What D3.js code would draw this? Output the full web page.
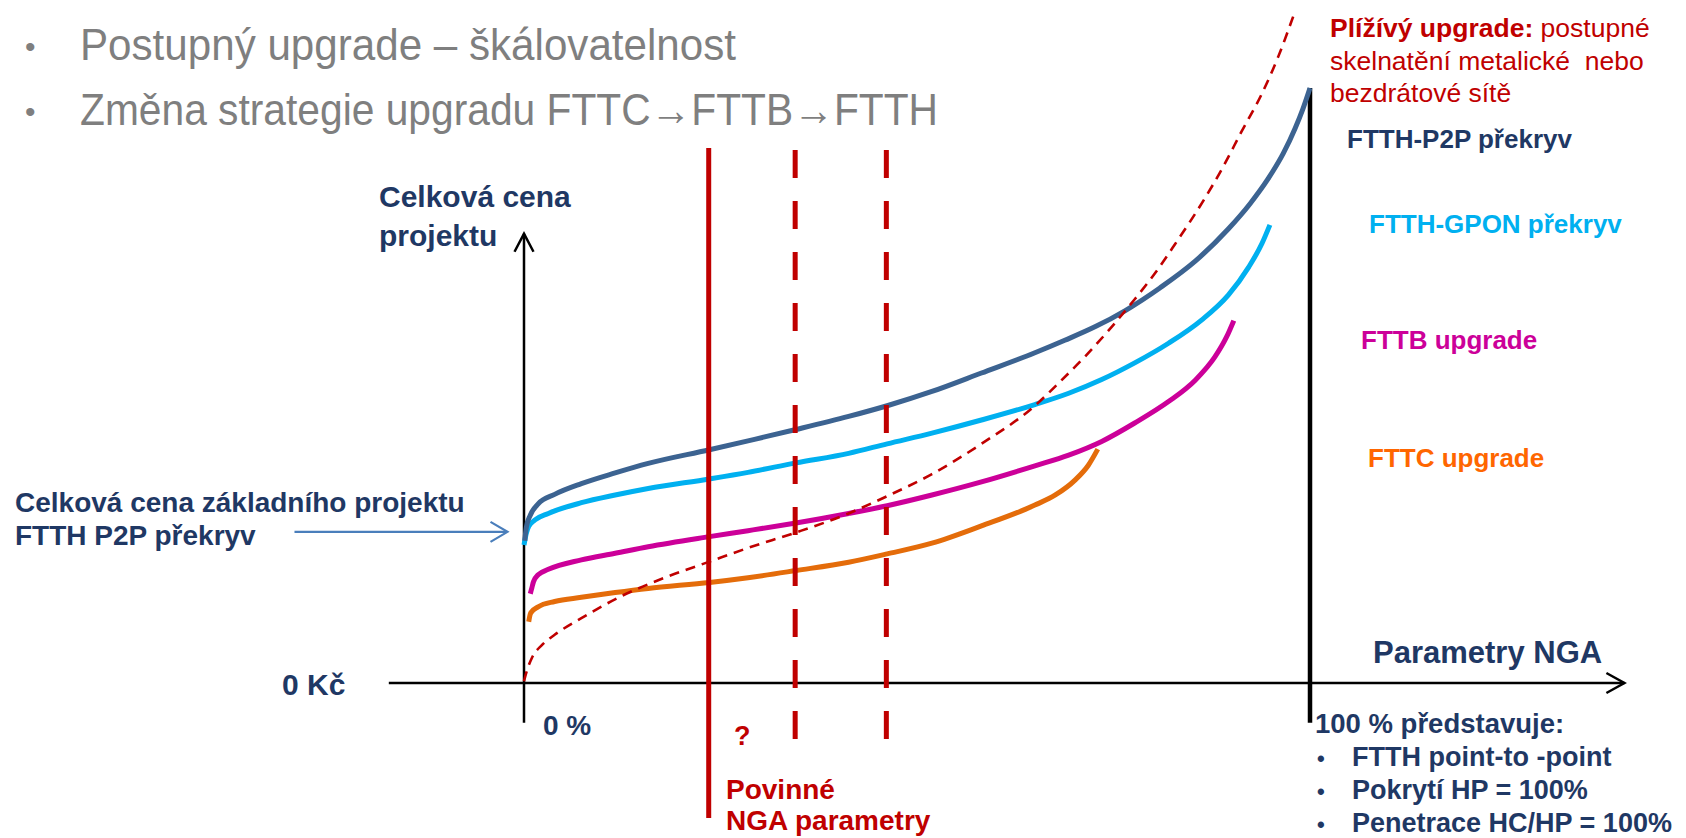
<!DOCTYPE html>
<html><head><meta charset="utf-8">
<script src="https://cdn.jsdelivr.net/npm/d3@7"></script>
<style>html,body{margin:0;padding:0;background:#fff;overflow:hidden} svg{display:block}</style>
</head><body>
<svg id="chart" width="1686" height="838"></svg>
<script>
// ---------------- data ----------------
const titleLines = ["Postupný upgrade – škálovatelnost", "Změna strategie upgradu FTTC\u2192FTTB\u2192FTTH"];
const seriesNames = ["FTTH-P2P překryv", "FTTH-GPON překryv", "FTTB upgrade", "FTTC upgrade"];

// x = NGA parameters (% of full FTTH P2P), y = relative total project cost
const p2pX  = [0.1,0.3,0.8,1.8,3.9,7.3,11.6,15.8,23.6,28.5,34.6,41.3,46.2,51.9,58.2,65.0,68.8,72.7,76.5,80.9,85.4,89.6,92.4,94.7,96.6,98.1,99.1,100];
const p2pY  = [23.9,26.2,28.2,30.1,31.7,33.5,35.3,36.9,39.2,40.7,42.6,44.8,46.6,49.0,52.1,55.5,57.6,59.9,62.6,66.4,70.9,76.3,80.6,84.8,89.0,93.2,96.5,100];
const gponX = [0.0,0.3,0.6,1.4,3.1,7.3,11.6,15.8,23.6,28.5,34.6,41.3,46.2,51.9,58.2,65.0,69.3,73.5,77.7,82.0,86.2,89.6,92.2,93.9,94.9];
const gponY = [23.2,25.2,26.3,27.4,28.5,30.3,31.6,32.7,34.3,35.4,37.0,38.6,40.2,42.0,44.2,46.8,48.7,51.0,53.8,57.1,61.0,65.2,69.9,73.9,77.0];
const fttbX = [0.8,1.0,1.2,1.8,3.1,7.3,11.6,15.8,23.6,28.5,34.6,41.3,46.2,51.9,58.2,65.0,69.3,73.5,77.7,82.0,85.4,87.9,89.4,90.3];
const fttbY = [15.0,16.0,17.0,18.2,19.1,20.7,21.8,22.9,24.6,25.6,26.9,28.5,29.8,31.6,33.8,36.5,38.3,40.6,43.7,47.3,50.9,54.8,58.2,60.9];
const fttcX = [0.6,0.8,1.0,1.8,3.9,7.3,11.6,15.8,23.6,28.5,34.6,41.3,46.2,51.9,58.2,65.0,67.6,70.1,71.8,73.0];
const fttcY = [10.3,11.6,12.0,12.8,13.7,14.4,15.2,15.9,16.9,17.7,18.9,20.3,21.7,23.5,26.4,29.9,31.6,34.1,36.6,39.3];
// "Plížívý upgrade" (creeping upgrade) dashed curve
const creepX = [0.0,0.4,1.0,2.3,3.9,7.3,12.4,17.9,23.6,28.5,34.6,41.3,46.2,51.9,58.2,65.0,68.4,71.4,74.8,77.7,80.3,82.8,86.5,88.8,91.3,93.9,96.0,98.1];
const creepY = [0.3,2.2,4.2,6.4,8.1,10.9,14.6,17.7,20.4,22.7,25.3,28.5,31.4,35.1,40.2,46.6,50.9,54.9,59.9,64.5,68.9,73.7,81.2,86.4,92.7,99.1,105.4,112.9];

// vertical markers: mandatory NGA parameters (solid) and candidate levels (dashed)
const markerX      = [23.5, 34.5, 46.1];
const markerTop    = [89.9, 89.6, 89.6];
const markerBottom = [-22.7, -10.8, -10.1];
const markerDashed = [false, true, true];

// axis extents and annotation arrow (data units)
const xAxisFrom = -17.2, xAxisTo = 140;
const yAxisFrom = -6.7, yAxisTo = 75.5;
const fullLevel = 100;
const baseArrowFrom = -29.2, baseArrowTo = -2.1, baseArrowLevel = 25.4;

// ---------------- layout ----------------
const svg = d3.select("#chart");
const x = d3.scaleLinear().domain([0, 100]).range([524, 1310]);
const y = d3.scaleLinear().domain([0, 100]).range([683, 88]);

const NAVY = "#1f3864", RED = "#c00000";
const BOLD = "'Liberation Sans', Arial, Helvetica, sans-serif";

// title bullets
const titleBase = [60, 125];
const titleLen = [656, 858];
titleLines.forEach((t, i) => {
  svg.append("text").attr("x", 25).attr("y", titleBase[i] - 3)
    .attr("font-family", BOLD).attr("font-size", 30).attr("fill", "#7f7f7f").text("•");
  svg.append("text").attr("x", 80).attr("y", titleBase[i])
    .attr("font-family", "'Liberation Sans Narrow','Arial Narrow','Liberation Sans',Arial,sans-serif")
    .attr("font-size", 44).attr("fill", "#7f7f7f")
    .attr("textLength", titleLen[i]).attr("lengthAdjust", "spacingAndGlyphs")
    .text(t);
});

function chevron(g, tipX, tipY, dir, len, half, color, w) {
  let pts;
  if (dir === "up") pts = [[tipX - half, tipY + len], [tipX, tipY], [tipX + half, tipY + len]];
  else pts = [[tipX - len, tipY - half], [tipX, tipY], [tipX - len, tipY + half]];
  g.append("path").attr("d", d3.line()(pts)).attr("fill", "none")
    .attr("stroke", color).attr("stroke-width", w).attr("stroke-linecap", "butt");
}

// axes
const axes = svg.append("g");
axes.append("line").attr("x1", x(0)).attr("x2", x(0)).attr("y1", y(yAxisFrom)).attr("y2", y(yAxisTo))
  .attr("stroke", "#000").attr("stroke-width", 2.5);
chevron(axes, x(0), y(yAxisTo), "up", 18, 9.5, "#000", 2.5);
axes.append("line").attr("x1", x(xAxisFrom)).attr("x2", x(xAxisTo)).attr("y1", y(0)).attr("y2", y(0))
  .attr("stroke", "#000").attr("stroke-width", 2.5);
chevron(axes, x(xAxisTo), y(0), "right", 18, 10, "#000", 2.5);
axes.append("line").attr("x1", x(fullLevel)).attr("x2", x(fullLevel)).attr("y1", y(yAxisFrom)).attr("y2", y(100))
  .attr("stroke", "#000").attr("stroke-width", 4.5);

// curves
const line = d3.line().x(d => x(d[0])).y(d => y(d[1])).curve(d3.curveMonotoneX);
const series = [
  {xs: p2pX,  ys: p2pY,  color: "#3c6391"},
  {xs: gponX, ys: gponY, color: "#00b0f0"},
  {xs: fttbX, ys: fttbY, color: "#cc0099"},
  {xs: fttcX, ys: fttcY, color: "#e46c0a"}
];
const curves = svg.append("g");
series.slice().reverse().forEach(s => {
  curves.append("path").attr("d", line(d3.zip(s.xs, s.ys)))
    .attr("fill", "none").attr("stroke", s.color).attr("stroke-width", 5);
});
curves.append("path").attr("d", line(d3.zip(creepX, creepY)))
  .attr("fill", "none").attr("stroke", RED).attr("stroke-width", 2.6)
  .attr("stroke-dasharray", "10 7");

// vertical markers
markerX.forEach((m, i) => {
  svg.append("line").attr("x1", x(m)).attr("x2", x(m))
    .attr("y1", y(markerTop[i])).attr("y2", y(markerBottom[i]))
    .attr("stroke", RED).attr("stroke-width", 5)
    .attr("stroke-dasharray", markerDashed[i] ? "28 23" : null);
});

// base project arrow
const arr = svg.append("g");
arr.append("line").attr("x1", x(baseArrowFrom)).attr("x2", x(baseArrowTo) - 1)
  .attr("y1", y(baseArrowLevel)).attr("y2", y(baseArrowLevel))
  .attr("stroke", "#4a7ebb").attr("stroke-width", 2.2);
chevron(arr, x(baseArrowTo), y(baseArrowLevel), "right", 17, 10, "#4a7ebb", 2.2);

// text helper
function txt(s, px, py, size, color, weight) {
  return svg.append("text").attr("x", px).attr("y", py)
    .attr("font-family", BOLD).attr("font-size", size)
    .attr("font-weight", weight || "bold").attr("fill", color).text(s);
}

// axis labels
txt("Celková cena", 379, 207, 30, NAVY);
txt("projektu", 379, 246, 30, NAVY);
txt("Parametry NGA", 1373, 663, 31, NAVY);
txt("0 Kč", 282, 695, 30, NAVY);
txt("0 %", 543, 735, 28, NAVY);
txt("Celková cena základního projektu", 15, 512, 28, NAVY);
txt("FTTH P2P překryv", 15, 545, 28, NAVY);

// marker labels
txt("?", 734, 745, 27, RED);
txt("Povinné", 726, 799, 28, RED);
txt("NGA parametry", 726, 830, 28, RED);

// series labels
const labelColors = [NAVY, "#00b0f0", "#cc0099", "#ff6600"];
const labelPos = [[1347, 148], [1369, 233], [1361, 349], [1368, 467]];
seriesNames.forEach((n, i) => txt(n, labelPos[i][0], labelPos[i][1], 26, labelColors[i]));

// creeping upgrade note
const note = svg.append("text").attr("x", 1330).attr("y", 37)
  .attr("font-family", BOLD).attr("font-size", 26.5).attr("fill", RED);
note.append("tspan").attr("font-weight", "bold").text("Plížívý upgrade:");
note.append("tspan").text(" postupné");
txt("skelnatění metalické\u00a0 nebo", 1330, 70, 26.5, RED, "normal");
txt("bezdrátové sítě", 1330, 102, 26.5, RED, "normal");

// 100 % note
txt("100 % představuje:", 1315, 733, 27.5, NAVY);
const full = ["FTTH point-to -point", "Pokrytí HP = 100%", "Penetrace HC/HP = 100%"];
full.forEach((t, i) => {
  txt("•", 1317, 766 + i * 33, 22, NAVY);
  txt(t, 1352, 766 + i * 33, 27, NAVY);
});
</script>
</body></html>
